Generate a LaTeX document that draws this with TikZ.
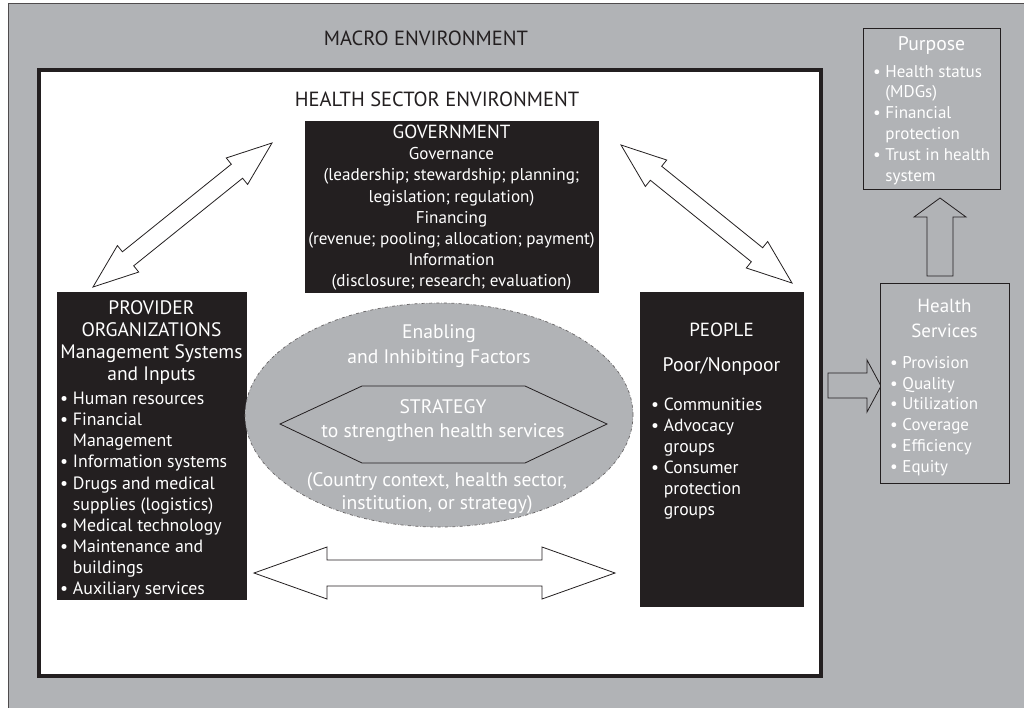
\documentclass[tikz,border=0pt]{standalone}
\usepackage{fontspec}
\setmainfont{PT Sans}
\usetikzlibrary{calc,shapes.geometric}
\definecolor{bggrey}{HTML}{B1B3B6}
\definecolor{ink}{HTML}{231F20}
\tikzset{
  darkbox/.style={rectangle, fill=ink, draw=ink, inner sep=0pt},
  greybox/.style={rectangle, fill=bggrey, draw=ink, line width=0.8pt, inner sep=0pt},
  wtext/.style={text=white, inner sep=0pt},
  btext/.style={text=ink, inner sep=0pt},
  blockarrow/.style={draw=ink, fill=white, line width=0.8pt, line join=miter},
}
\newcommand\dblarrow[5]{% from, to, shaft half, head half, head length
  \coordinate (da1) at ($(#1)!#5!(#2)$);
  \coordinate (da2) at ($(#2)!#5!(#1)$);
  \draw[blockarrow] (#1) -- ($(da1)!#4!90:(#2)$) -- ($(da1)!#3!90:(#2)$)
    -- ($(da2)!#3!-90:(#1)$) -- ($(da2)!#4!-90:(#1)$) -- (#2)
    -- ($(da2)!#4!90:(#1)$) -- ($(da2)!#3!90:(#1)$)
    -- ($(da1)!#3!-90:(#2)$) -- ($(da1)!#4!-90:(#2)$) -- cycle;
}
\begin{document}
\begin{tikzpicture}[x=1pt,y=-1pt]
\useasboundingbox (0,0) rectangle (1024,707);
\clip (0,0) rectangle (1024,707);
% macro environment
\draw[fill=bggrey, draw=ink!80, line width=0.8pt] (8,3) rectangle (1040,720);
\node[btext, font=\fontsize{20.5}{24}\selectfont] (macro) at (426,38) {MACRO ENVIRONMENT};
% health sector environment
\draw[fill=white, draw=ink, line width=3.5pt] (39,70) rectangle (821,676);
\node[btext, font=\fontsize{20.5}{24}\selectfont] (hse) at (437,99) {HEALTH SECTOR ENVIRONMENT};

% government
\node[darkbox, minimum width=293, minimum height=171, anchor=north west] (gov) at (305,121) {};
\node[wtext, anchor=north, align=center, font=\fontsize{17.1}{21.1}\selectfont] (govtext) at (451.5,125)
 {{\fontsize{19}{21.1}\selectfont GOVERNMENT}\\Governance\\(leadership; stewardship; planning;\\legislation; regulation)\\Financing\\(revenue; pooling; allocation; payment)\\Information\\(disclosure; research; evaluation)};

% provider organizations
\node[darkbox, minimum width=189, minimum height=307, anchor=north west] (prov) at (57,292) {};
\node[wtext, anchor=north, align=center, font=\fontsize{19.5}{22}\selectfont] (provhead) at (151.5,300)
 {PROVIDER\\ORGANIZATIONS\\Management Systems\\and Inputs};
\node[wtext, anchor=north west, align=left, font=\fontsize{17.8}{21.1}\selectfont] (provlist) at (60,392)
 {\textbullet\ Human resources\\
  \textbullet\ Financial\\
  \hphantom{\textbullet\ }Management\\
  \textbullet\ Information systems\\
  \textbullet\ Drugs and medical\\
  \hphantom{\textbullet\ }supplies (logistics)\\
  \textbullet\ Medical technology\\
  \textbullet\ Maintenance and\\
  \hphantom{\textbullet\ }buildings\\
  \textbullet\ Auxiliary services};

% people
\node[darkbox, minimum width=163, minimum height=314, anchor=north west] (people) at (640,292) {};
\node[wtext, font=\fontsize{19}{21}\selectfont] (peoplehead) at (721.5,330) {PEOPLE};
\node[wtext, font=\fontsize{19.6}{21}\selectfont] (poor) at (721.5,366) {Poor/Nonpoor};
\node[wtext, anchor=north west, align=left, font=\fontsize{17.6}{21}\selectfont] (peoplelist) at (651,398)
 {\textbullet\ Communities\\
  \textbullet\ Advocacy\\
  \hphantom{\textbullet\ }groups\\
  \textbullet\ Consumer\\
  \hphantom{\textbullet\ }protection\\
  \hphantom{\textbullet\ }groups};

% enabling factors ellipse
\node[ellipse, fill=bggrey, draw=ink!70, dash dot, line width=0.7pt, minimum width=388, minimum height=224, inner sep=0pt] (ell) at (439,415) {};
\node[wtext, align=center, font=\fontsize{19.6}{25}\selectfont] (enab) at (439,346) {Enabling\\and Inhibiting Factors};
\draw[fill=bggrey, draw=ink, line width=0.8pt] (280,424) coordinate (hexl) -- (362,386) -- (525,386) -- (607,424) coordinate (hexr) -- (525,463) -- (362,463) -- cycle;
\node[wtext, align=center, font=\fontsize{19.6}{24}\selectfont] (strat) at (443,421) {STRATEGY\\to strengthen health services};
\node[wtext, align=center, font=\fontsize{19.6}{23.5}\selectfont] (ctx) at (437,493) {(Country context, health sector,\\institution, or strategy)};

% block arrows (drawn before the boxes they touch)
\coordinate (ga) at (93,287);
\coordinate (gb) at (272,143);
\dblarrow{ga}{gb}{9pt}{17pt}{45pt}
\coordinate (gc) at (621,145);
\coordinate (gd) at (792,283);
\dblarrow{gc}{gd}{9pt}{17pt}{45pt}
\coordinate (pa) at (254,573);
\coordinate (pb) at (615,573);
\dblarrow{pa}{pb}{13pt}{26pt}{73pt}
% up arrow: health services -> purpose
\draw[blockarrow, fill=bggrey] (927,276) -- (927,217) -- (914,217) -- (940,198) coordinate (uptip) -- (966,217) -- (953,217) -- (953,276) -- cycle;
% right arrow: sector -> health services
\draw[blockarrow, fill=bggrey] (828,373) -- (867,373) -- (867,360) -- (881,386) coordinate (rtip) -- (867,412) -- (867,398) -- (828,398) -- cycle;

% purpose
\node[greybox, minimum width=137, minimum height=161, anchor=north west] (purp) at (863,28) {};
\node[wtext, font=\fontsize{19.7}{21}\selectfont] (purphead) at (931.5,45) {Purpose};
\node[wtext, anchor=north west, align=left, font=\fontsize{17}{20.8}\selectfont] (purplist) at (873,65)
 {\textbullet\ Health status\\
  \hphantom{\textbullet\ }(MDGs)\\
  \textbullet\ Financial\\
  \hphantom{\textbullet\ }protection\\
  \textbullet\ Trust in health\\
  \hphantom{\textbullet\ }system};

% health services
\node[greybox, minimum width=129, minimum height=200, anchor=north west] (hs) at (880,283) {};
\node[wtext, align=center, font=\fontsize{19}{25}\selectfont] (hshead) at (944.5,318) {Health\\Services};
\node[wtext, anchor=north west, align=left, font=\fontsize{17}{20.8}\selectfont] (hslist) at (890,356)
 {\textbullet\ Provision\\
  \textbullet\ Quality\\
  \textbullet\ Utilization\\
  \textbullet\ Coverage\\
  \textbullet\ Efficiency\\
  \textbullet\ Equity};
\end{tikzpicture}
\end{document}
